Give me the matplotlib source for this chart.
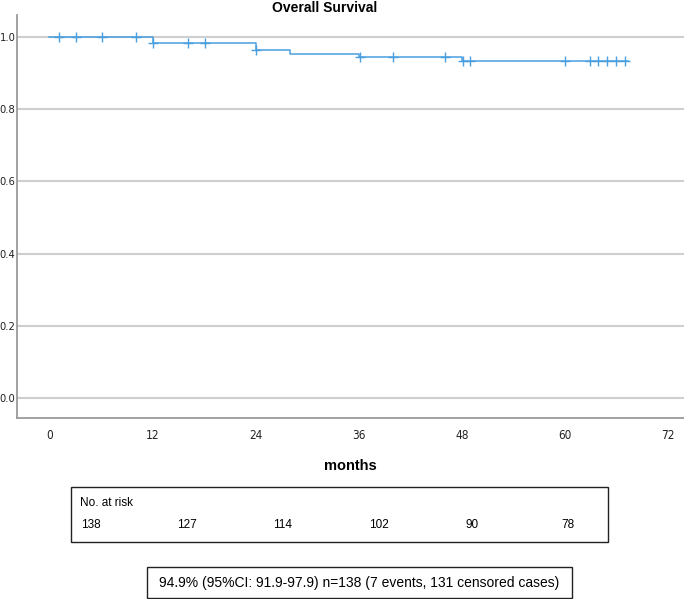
import numpy as np
import matplotlib.pyplot as plt

# Kaplan-Meier steps (months, survival)
step_t = [0, 12, 24, 28, 36, 48, 67.3]
step_s = [1.0, 0.983, 0.963, 0.953, 0.944, 0.933, 0.933]
# censored observations (months)
censor_t = [1.1, 3.1, 6.1, 10.1, 12.1, 16.1, 18.1, 24.1, 36.1, 40.0, 46.0,
            48.1, 49.0, 60.0, 62.9, 63.9, 64.9, 65.9, 67.0]
xticks = [0, 12, 24, 36, 48, 60, 72]
yticks = [0.0, 0.2, 0.4, 0.6, 0.8, 1.0]
at_risk = [138, 127, 114, 102, 90, 78]
summary = "94.9% (95%CI: 91.9-97.9) n=138 (7 events, 131 censored cases)"

plt.rcParams['font.family'] = ['Liberation Sans', 'DejaVu Sans']

W, H = 684, 599
fig = plt.figure(figsize=(W / 100, H / 100), dpi=100)

def fx(px):
    return px / W

def fy(py):
    return 1 - py / H

ax = fig.add_axes([fx(17), fy(418), 1 - fx(17), fy(15) - fy(418)])
blue = '#4a9fe0'

# survival curve
ax.step(step_t, step_s, where='post', color=blue, lw=1.1, zorder=3)
idx = np.searchsorted(step_t, censor_t, side='right') - 1
censor_s = np.array(step_s)[idx]
ax.plot(censor_t, censor_s, ls='none', marker='+', ms=7, mew=1.0,
        color=blue, zorder=4)

ax.set_xlim(-3.78, 73.87)
ax.set_ylim(-0.055, 1.061)
ax.set_xticks(xticks)
ax.set_yticks(yticks)
ax.set_yticklabels([f"{v:.1f}" for v in yticks])
ax.tick_params(length=0, colors='#222222')
ax.tick_params(axis='x', pad=8)
ax.tick_params(axis='y', pad=1)
for lab in ax.get_xticklabels():
    lab.set_fontfamily('DejaVu Sans')
    lab.set_fontstretch('condensed')
    lab.set_fontsize(8.5)
for lab in ax.get_yticklabels():
    lab.set_fontfamily('DejaVu Sans')
    lab.set_fontstretch('condensed')
    lab.set_fontsize(8)
ax.grid(axis='y', color='#cfcfcf', lw=1.5)
ax.set_axisbelow(True)
for s in ['top', 'right']:
    ax.spines[s].set_visible(False)
for s in ['left', 'bottom']:
    ax.spines[s].set_color('#9a9a9a')
    ax.spines[s].set_linewidth(1.3)

fig.text(fx(325), fy(1), "Overall Survival", ha='center', va='top',
         fontsize=10, fontweight='bold')
fig.text(fx(350), fy(466), "months", ha='center', va='center',
         fontsize=10.5, fontweight='bold')

# number at risk box
fig.patches.append(plt.Rectangle((fx(71), fy(542)), fx(608) - fx(71),
                                 fy(487) - fy(542), transform=fig.transFigure,
                                 fill=False, ec='#222222', lw=1.0))
fig.text(fx(80), fy(503), "No. at risk", ha='left', va='center', fontsize=8.5)
for i, n in enumerate(at_risk):
    fig.text(fx(81 + 96 * i), fy(525), str(n), ha='left', va='center',
             fontsize=8.5)

# summary box
fig.patches.append(plt.Rectangle((fx(147), fy(598)), fx(572) - fx(147),
                                 fy(567) - fy(598), transform=fig.transFigure,
                                 fill=False, ec='#222222', lw=1.0))
fig.text(fx(359), fy(583), summary, ha='center', va='center', fontsize=10)

fig.savefig("out.png", dpi=100)
